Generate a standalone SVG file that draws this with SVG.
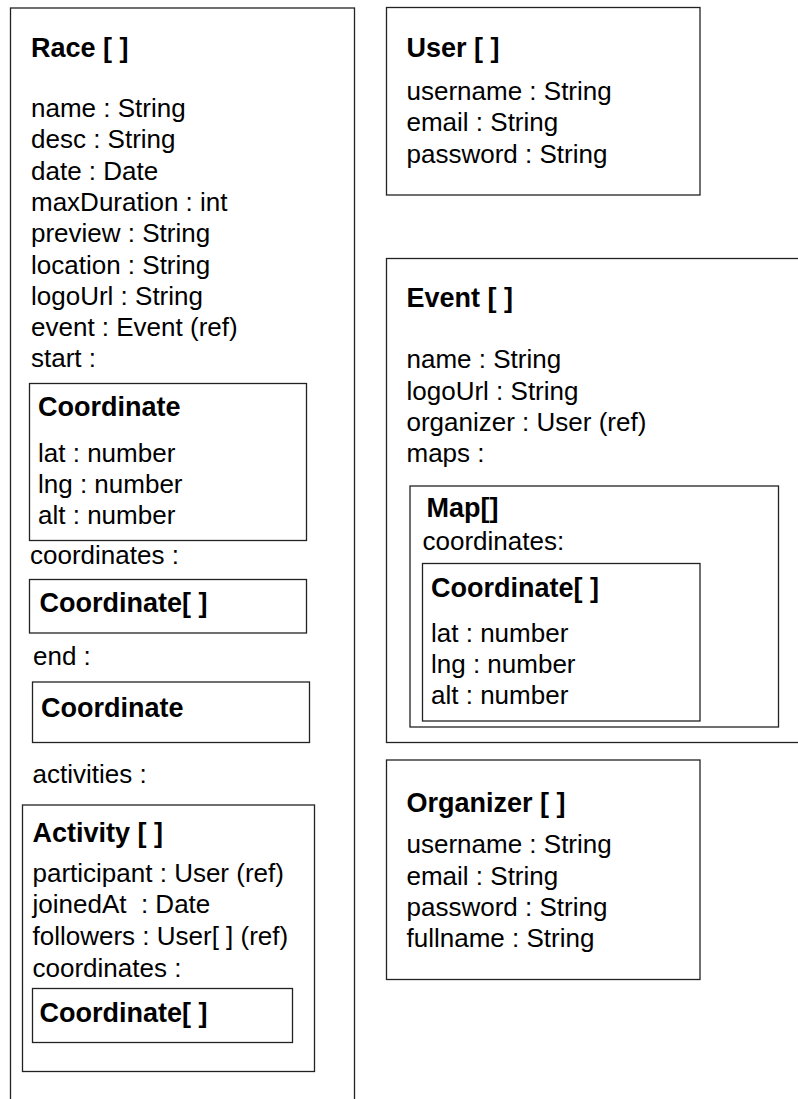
<svg xmlns="http://www.w3.org/2000/svg" width="798" height="1099" viewBox="0 0 798 1099">
  <style>
    rect { fill: #fff; stroke: #222; stroke-width: 1.3; }
    text { font-family: "Liberation Sans", Arial, sans-serif; fill: #000; white-space: pre; }
    .t { font-size: 27px; font-weight: bold; }
    .f { font-size: 26px; }
  </style>
  <rect x="0" y="0" width="798" height="1099" style="stroke:none"/>

  <!-- Race collection -->
  <g id="race">
    <rect x="10.5" y="8" width="344" height="1100"/>
    <text class="t" x="31" y="57">Race [ ]</text>
    <text class="f" x="31" y="117">name : String</text>
    <text class="f" x="31" y="148.3">desc : String</text>
    <text class="f" x="31" y="179.6">date : Date</text>
    <text class="f" x="31" y="210.9">maxDuration : int</text>
    <text class="f" x="31" y="242.2">preview : String</text>
    <text class="f" x="31" y="273.5">location : String</text>
    <text class="f" x="31" y="304.8">logoUrl : String</text>
    <text class="f" x="31" y="336.1">event : Event (ref)</text>
    <text class="f" x="31" y="367.4">start :</text>

    <g id="race-start">
      <rect x="29.5" y="383.5" width="277" height="157"/>
      <text class="t" x="38" y="416">Coordinate</text>
      <text class="f" x="38" y="461.5">lat : number</text>
      <text class="f" x="38" y="492.8">lng : number</text>
      <text class="f" x="38" y="524.1">alt : number</text>
    </g>

    <text class="f" x="30" y="563.5">coordinates :</text>
    <g id="race-coordinates">
      <rect x="29.5" y="579.5" width="277" height="53.5"/>
      <text class="t" x="39.5" y="611.7">Coordinate[ ]</text>
    </g>

    <text class="f" x="33" y="665">end :</text>
    <g id="race-end">
      <rect x="32.5" y="682" width="277" height="60.5"/>
      <text class="t" x="41" y="717.3">Coordinate</text>
    </g>

    <text class="f" x="32.5" y="783.3">activities :</text>
    <g id="race-activities">
      <rect x="22.5" y="805" width="292" height="266.5"/>
      <text class="t" x="32.5" y="841.7">Activity [ ]</text>
      <text class="f" x="32.5" y="881.5">participant : User (ref)</text>
      <text class="f" x="32.5" y="913.2" xml:space="preserve">joinedAt  : Date</text>
      <text class="f" x="32.5" y="944.9">followers : User[ ] (ref)</text>
      <text class="f" x="32.5" y="976.6">coordinates :</text>
      <g id="activity-coordinates">
        <rect x="32.5" y="988.5" width="260" height="54"/>
        <text class="t" x="39.5" y="1021.7">Coordinate[ ]</text>
      </g>
    </g>
  </g>

  <!-- User collection -->
  <g id="user">
    <rect x="386.5" y="7.5" width="313.5" height="187.5"/>
    <text class="t" x="406.5" y="56.7">User [ ]</text>
    <text class="f" x="406.5" y="100">username : String</text>
    <text class="f" x="406.5" y="131.3">email : String</text>
    <text class="f" x="406.5" y="162.6">password : String</text>
  </g>

  <!-- Event collection -->
  <g id="event">
    <rect x="386.5" y="258.5" width="430" height="484"/>
    <text class="t" x="406.5" y="306.7">Event [ ]</text>
    <text class="f" x="406.5" y="368.3">name : String</text>
    <text class="f" x="406.5" y="399.6">logoUrl : String</text>
    <text class="f" x="406.5" y="430.9">organizer : User (ref)</text>
    <text class="f" x="406.5" y="462.2">maps :</text>
    <g id="event-maps">
      <rect x="410" y="486" width="368.5" height="241"/>
      <text class="t" x="426.5" y="516.7">Map[]</text>
      <text class="f" x="422.5" y="550">coordinates:</text>
      <g id="map-coordinates">
        <rect x="422.5" y="563.5" width="277.5" height="157.5"/>
        <text class="t" x="431" y="596.7">Coordinate[ ]</text>
        <text class="f" x="431" y="641.7">lat : number</text>
        <text class="f" x="431" y="673">lng : number</text>
        <text class="f" x="431" y="704.3">alt : number</text>
      </g>
    </g>
  </g>

  <!-- Organizer collection -->
  <g id="organizer">
    <rect x="386.5" y="760" width="313.5" height="219.5"/>
    <text class="t" x="406.5" y="811.7">Organizer [ ]</text>
    <text class="f" x="406.5" y="853.3">username : String</text>
    <text class="f" x="406.5" y="884.6">email : String</text>
    <text class="f" x="406.5" y="915.9">password : String</text>
    <text class="f" x="406.5" y="947.2">fullname : String</text>
  </g>

  <!-- no connectors are drawn between the collections -->
  <g id="connectors"/>
</svg>
